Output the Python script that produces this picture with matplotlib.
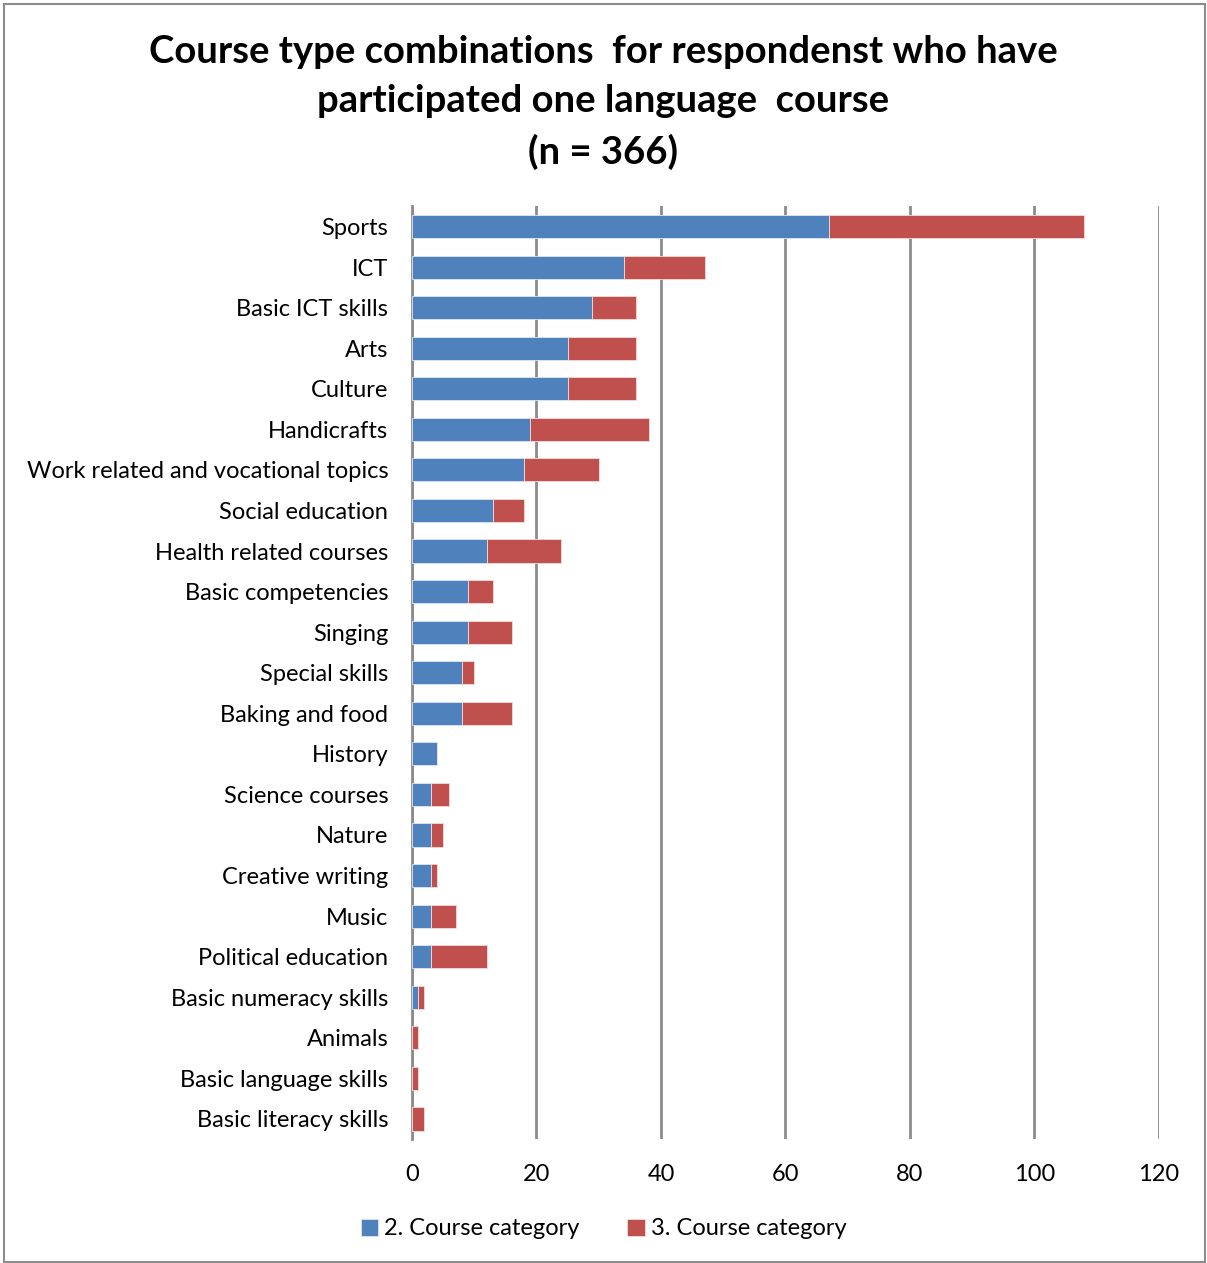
import matplotlib.pyplot as plt
from matplotlib.patches import Rectangle

plt.rcParams['font.family'] = ['Lato', 'DejaVu Sans']

# --- Data (top to bottom as displayed) ---
categories = [
    "Sports", "ICT", "Basic ICT skills", "Arts", "Culture", "Handicrafts",
    "Work related and vocational topics", "Social education",
    "Health related courses", "Basic competencies", "Singing",
    "Special skills", "Baking and food", "History", "Science courses",
    "Nature", "Creative writing", "Music", "Political education",
    "Basic numeracy skills", "Animals", "Basic language skills",
    "Basic literacy skills",
]
second_cat = [67, 34, 29, 25, 25, 19, 18, 13, 12, 9, 9, 8, 8, 4, 3, 3, 3, 3, 3, 1, 0, 0, 0]
third_cat = [41, 13, 7, 11, 11, 19, 12, 5, 12, 4, 7, 2, 8, 0, 3, 2, 1, 4, 9, 1, 1, 1, 2]

BLUE = "#4F81BD"
RED = "#C0504D"

fig = plt.figure(figsize=(12.07, 12.63), dpi=100)
ax = fig.add_axes([0.3413, 0.098, 0.6189, 0.7387])

y = list(range(len(categories)))
ax.barh(y, second_cat, height=0.57, color=BLUE, edgecolor="#dce6f2", linewidth=0.6,
        label="2. Course category", zorder=3)
ax.barh(y, third_cat, left=second_cat, height=0.57, color=RED, edgecolor="#f2dcdb",
        linewidth=0.6, label="3. Course category", zorder=3)

ax.set_ylim(len(categories) - 0.5, -0.5)
ax.set_xlim(0, 120)
ax.set_xticks(range(0, 121, 20))
ax.set_yticks(y)
ax.set_yticklabels(categories, fontsize=17)
ax.tick_params(axis="x", labelsize=17, length=0, pad=18)
ax.tick_params(axis="y", length=0, pad=17)

ax.grid(axis="x", color="#8c8c8c", linewidth=2, zorder=0)
for s in ["top", "right", "bottom"]:
    ax.spines[s].set_visible(False)
ax.spines["left"].set_color("#8c8c8c")
ax.spines["left"].set_linewidth(2)

fig.text(0.5, 0.972, "Course type combinations  for respondenst who have\n"
         "participated one language  course\n(n = 366)",
         ha="center", va="top", fontsize=27.5, fontweight="bold", linespacing=1.52)

leg = fig.legend(loc="center", bbox_to_anchor=(0.5, 0.027), ncol=2, frameon=False,
                 fontsize=17, handlelength=0.75, handleheight=0.75, handletextpad=0.25,
                 columnspacing=2.0)

# light gray frame around the whole chart area
fig.patches.append(Rectangle((0.003, 0.001), 0.995, 0.996, transform=fig.transFigure,
                             fill=False, edgecolor="#8c8c8c", linewidth=1.5))

fig.savefig("out.png", dpi=100)
